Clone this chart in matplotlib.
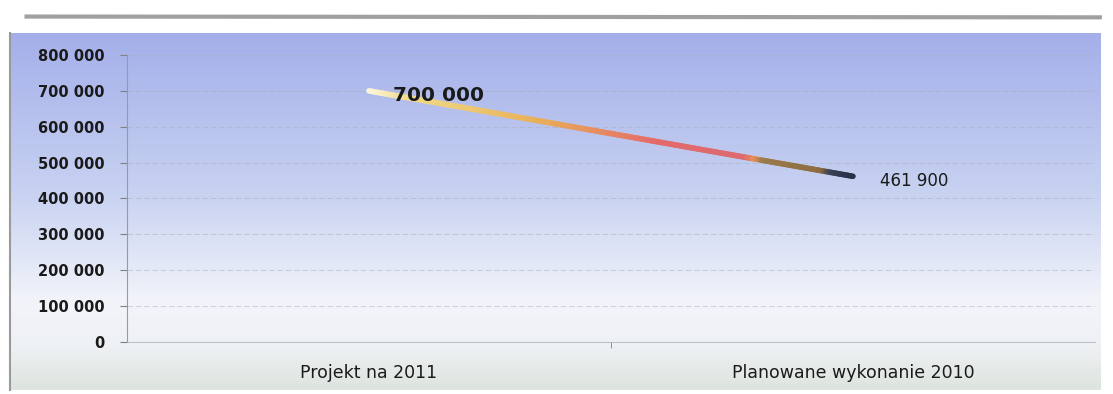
import matplotlib.pyplot as plt
import numpy as np
from matplotlib.collections import LineCollection
from matplotlib.colors import LinearSegmentedColormap
from matplotlib.ticker import FuncFormatter, MultipleLocator
from matplotlib.lines import Line2D

categories = ["Projekt na 2011", "Planowane wykonanie 2010"]
values = [700000, 461900]
value_labels = ["700 000", "461 900"]

fig = plt.figure(figsize=(11.13, 3.94), dpi=100)
fig.patch.set_facecolor("white")

# background panel with a vertical blue -> white -> greenish gradient
bg = fig.add_axes([0.009, 0.01, 0.98, 0.906], zorder=0)
bg_cmap = LinearSegmentedColormap.from_list(
    "bg", [(0.0, "#dde4de"), (0.12, "#eef1f4"), (0.25, "#f2f4fa"),
           (0.55, "#c8d2f1"), (1.0, "#a4afea")])
bg.imshow(np.linspace(0, 1, 256).reshape(-1, 1), aspect="auto", cmap=bg_cmap,
          origin="lower", extent=[0, 1, 0, 1])
bg.set_xlim(0, 1)
bg.set_ylim(0, 1)
bg.set_xticks([])
bg.set_yticks([])
for side in ["top", "right", "bottom"]:
    bg.spines[side].set_visible(False)
bg.spines["left"].set_color("#9a9a9a")
bg.spines["left"].set_linewidth(1.5)

# grey rule above the panel
fig.add_artist(Line2D([0.022, 0.99], [0.958, 0.956], color="#a0a0a0", lw=3,
                      transform=fig.transFigure, solid_capstyle="butt"))

ax = fig.add_axes([0.1141, 0.132, 0.8697, 0.7284], zorder=1)
ax.patch.set_alpha(0)

x = np.arange(len(categories))
ax.set_xlim(-0.5, len(categories) - 0.5)
ax.set_ylim(0, 800000)

# line drawn with a colour ramp along its length
t = np.linspace(0, 1, 200)
xs = x[0] + (x[1] - x[0]) * t
ys = values[0] + (values[1] - values[0]) * t
pts = np.column_stack([xs, ys]).reshape(-1, 1, 2)
segs = np.concatenate([pts[:-1], pts[1:]], axis=1)
line_cmap = LinearSegmentedColormap.from_list(
    "ln", [(0.0, "#fbf6dc"), (0.08, "#f0dc8a"), (0.35, "#e9b058"),
           (0.6, "#e46a6a"), (0.78, "#dc6a70"), (0.8, "#e8905a"),
           (0.82, "#9c7c4c"), (0.94, "#8c6c40"), (0.96, "#3a4258"), (1.0, "#2a3048")])
lc = LineCollection(segs, cmap=line_cmap, linewidths=4, capstyle="round")
lc.set_array(t[:-1])
ax.add_collection(lc)

ax.text(x[0] + 0.05, values[0] - 12000, value_labels[0], fontsize=14.5,
        fontweight="bold", color="#1a1a1a", va="center", ha="left")
ax.text(x[1] + 0.055, values[1] - 12000, value_labels[1], fontsize=12,
        color="#1a1a1a", va="center", ha="left")

ax.yaxis.set_major_locator(MultipleLocator(100000))
ax.yaxis.set_major_formatter(FuncFormatter(lambda v, p: f"{int(v):,}".replace(",", " ")))
ax.set_xticks(x)
ax.set_xticklabels(categories)
ax.set_xticks([0.5], minor=True)
ax.tick_params(axis="y", labelsize=10.5, labelcolor="#1a1a1a", length=5,
               color="#808080", pad=11)
ax.tick_params(axis="x", which="major", labelsize=12.5, labelcolor="#1a1a1a",
               length=0, pad=16)
ax.tick_params(axis="x", which="minor", length=4, color="#808080")
for lab in ax.get_yticklabels():
    lab.set_fontweight("bold")

ax.grid(axis="y", color="#a8aebc", linestyle=(0, (8, 4)), linewidth=0.5, alpha=0.7)
ax.set_axisbelow(True)
for side in ["top", "right"]:
    ax.spines[side].set_visible(False)
ax.spines["left"].set_color("#9a9a9a")
ax.spines["bottom"].set_color("#b0b4c0")
ax.spines["bottom"].set_linewidth(0.6)

fig.savefig("out.png", dpi=100)
